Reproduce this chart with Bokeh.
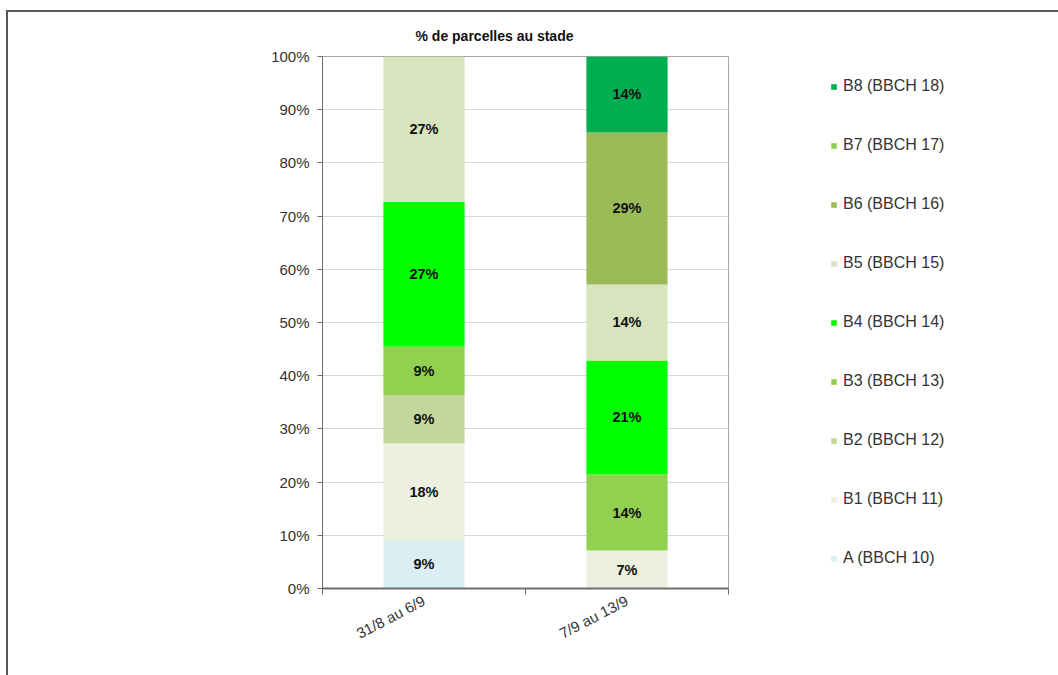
from bokeh.plotting import figure
from bokeh.models import (ColumnDataSource, Range1d, FixedTicker, Legend, LegendItem, Title)
from bokeh.embed import file_html
from bokeh.resources import INLINE
from bokeh.core.properties import value

# ---- data ----
periods = ["31/8 au 6/9", "7/9 au 13/9"]
stages = ["A (BBCH 10)", "B1 (BBCH 11)", "B2 (BBCH 12)", "B3 (BBCH 13)", "B4 (BBCH 14)",
          "B5 (BBCH 15)", "B6 (BBCH 16)", "B7 (BBCH 17)", "B8 (BBCH 18)"]
colors = ["#DBEEF3", "#EBF1DE", "#C3D69B", "#92D050", "#00FF00",
          "#D7E4BD", "#9BBB59", "#92D050", "#00B050"]
A = [9.09, 0.0]
B1 = [18.18, 7.14]
B2 = [9.09, 0.0]
B3 = [9.09, 14.29]
B4 = [27.27, 21.43]
B5 = [27.27, 14.29]
B6 = [0.0, 28.57]
B7 = [0.0, 0.0]
B8 = [0.0, 14.29]
series = [A, B1, B2, B3, B4, B5, B6, B7, B8]
y_ticks = [0, 10, 20, 30, 40, 50, 60, 70, 80, 90, 100]

FONT = "Liberation Sans"

xs = [i + 0.5 for i in range(len(periods))]
keys = ["s%d" % i for i in range(len(stages))]
data = {"x": xs}
for k, s in zip(keys, series):
    data[k] = s
src = ColumnDataSource(data)

p = figure(frame_width=406, frame_height=532, output_backend="svg", toolbar_location=None,
           x_range=Range1d(0, len(periods)), y_range=Range1d(0, 100),
           min_border_left=314, min_border_right=0, min_border_top=44,
           min_border_bottom=87,
           styles={"margin-left": "6px", "margin-top": "10px",
                   "border-top": "2px solid #595959", "border-left": "2px solid #595959"})
p.background_fill_color = "white"
p.border_fill_color = "white"
p.outline_line_color = "#A6A6A6"
p.outline_line_width = 1

renderers = p.vbar_stack(keys, x="x", width=0.4, source=src, color=colors, line_color=None)

# data labels
lx, ly, lt = [], [], []
for j, xv in enumerate(xs):
    cum = 0.0
    for s in series:
        v = s[j]
        if v > 0:
            lx.append(xv)
            ly.append(cum + v / 2)
            lt.append("%d%%" % round(v))
        cum += v
p.text(x=lx, y=ly, text=lt, text_align="center", text_baseline="middle",
       text_font=value(FONT), text_font_size="14.5px", text_font_style="bold",
       text_color="#111111")

# axes
p.xgrid.grid_line_color = None
p.ygrid.grid_line_color = "#D9D9D9"
p.ygrid.ticker = FixedTicker(ticks=y_ticks)

ya = p.yaxis[0]
ya.ticker = FixedTicker(ticks=y_ticks)
ya.major_label_overrides = {t: "%d%%" % t for t in y_ticks}
ya.major_label_text_font = FONT
ya.major_label_text_font_size = "15px"
ya.major_label_text_color = "#333333"
ya.axis_line_color = "#6E6E6E"
ya.major_tick_line_color = "#6E6E6E"
ya.major_tick_in = 0
ya.major_tick_out = 5
ya.minor_tick_line_color = None
ya.major_label_standoff = 8

xa = p.xaxis[0]
xa.ticker = FixedTicker(ticks=xs, minor_ticks=list(range(len(periods) + 1)))
xa.major_label_overrides = {xv: name for xv, name in zip(xs, periods)}
xa.major_label_orientation = 0.48
xa.major_label_text_font = FONT
xa.major_label_text_font_size = "15px"
xa.major_label_text_color = "#333333"
xa.axis_line_color = "#6E6E6E"
xa.axis_line_width = 2
xa.major_tick_line_color = None
xa.minor_tick_line_color = "#6E6E6E"
xa.minor_tick_in = 0
xa.minor_tick_out = 6
xa.major_label_standoff = 5

# title
t = Title(text="% de parcelles au stade", align="left", offset=93,
          text_font=FONT, text_font_size="14px", text_font_style="bold",
          text_color="#111111", standoff=25)
p.add_layout(t, "above")

# legend (top = last stage)
items = [LegendItem(label=stages[i], renderers=[renderers[i]]) for i in reversed(range(len(stages)))]
legend = Legend(items=items, location=(102, 20), orientation="vertical",
                label_text_font=FONT, label_text_font_size="16px", label_text_color="#333333",
                glyph_width=7, glyph_height=7, label_height=20, label_standoff=6,
                spacing=39, padding=0, margin=0, border_line_color=None,
                background_fill_alpha=0)
p.add_layout(legend, "right")

open("out.html", "w").write(file_html(p, INLINE))
